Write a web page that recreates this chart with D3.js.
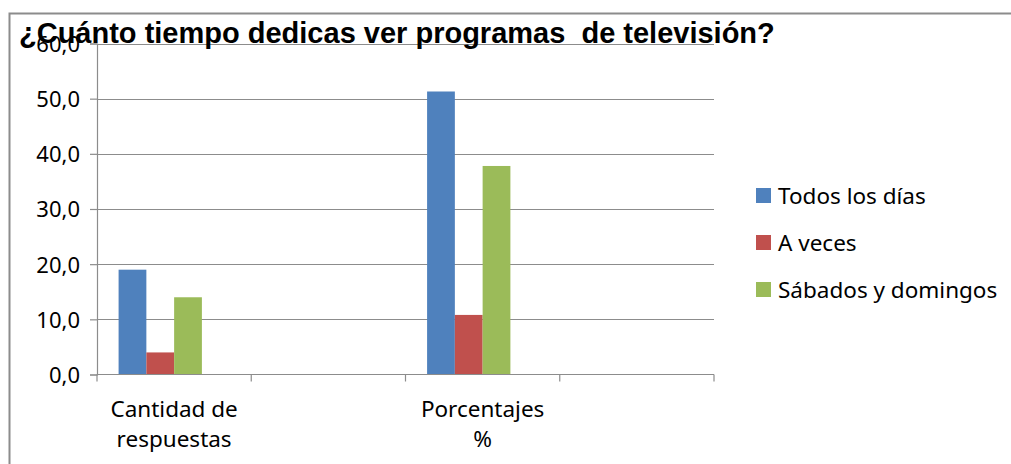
<!DOCTYPE html>
<html lang="es">
<head>
    <meta charset="utf-8">
    <title>¿Cuánto tiempo dedicas ver programas de televisión?</title>
    <style>
        body { margin: 0; background: #fff; }
        svg text { font-family: "Noto Sans", "Open Sans", sans-serif; fill: #000; }
        .title { font-family: "Liberation Sans", Arial, sans-serif !important; font-weight: bold; white-space: pre; }
    </style>
</head>
<body>
<script src="https://cdn.jsdelivr.net/npm/d3@7/dist/d3.min.js"></script>
<script>
    // datos
    var categorias = ["Cantidad de\nrespuestas", "", "Porcentajes\n%", ""];
    var series = ["Todos los días", "A veces", "Sábados y domingos"];
    var colores = ["#4F81BD", "#C0504D", "#9BBB59"];
    var todosLosDias = [19, null, 51.3, null];
    var aVeces = [4, null, 10.8, null];
    var sabadosDomingos = [14, null, 37.8, null];
    var ticksY = [0, 10, 20, 30, 40, 50, 60];

    function main() {
        var width = 1011,
            height = 464;
        var left = 97, right = 714, top = 43.5, bottom = 374.5;

        var svg = d3.select("body").append("svg")
            .attr("width", width)
            .attr("height", height);

        // marco del grafico
        svg.append("path")
            .attr("d", "M9.5," + height + "V13.5H" + width)
            .attr("fill", "none")
            .attr("stroke", "#8c8c8c")
            .attr("stroke-width", 2);

        var x = d3.scaleBand()
            .domain(d3.range(categorias.length))
            .range([left, right]);

        var y = d3.scaleLinear()
            .domain([0, 60])
            .range([bottom, top]);

        var valores = [todosLosDias, aVeces, sabadosDomingos];
        var bw = x.bandwidth();
        // 4 huecos por categoria, el ultimo vacio
        var sub = d3.scaleBand()
            .domain(d3.range(4))
            .range([bw * 0.14, bw * 0.86]);

        // lineas de cuadricula
        svg.append("g")
            .selectAll("line")
            .data(ticksY.slice(1))
            .enter().append("line")
            .attr("x1", left)
            .attr("x2", right)
            .attr("y1", function (d) { return Math.round(y(d)) + 0.5; })
            .attr("y2", function (d) { return Math.round(y(d)) + 0.5; })
            .attr("stroke", "#8c8c8c")
            .attr("stroke-width", 1.2);

        // eje y
        var ejeY = svg.append("g")
            .attr("transform", "translate(" + left + ",0)")
            .call(d3.axisLeft(y).tickValues(ticksY).tickSize(7).tickPadding(10)
                .tickFormat(function (d) { return d3.format(".1f")(d).replace(".", ","); }));
        ejeY.select(".domain").attr("stroke", "#8c8c8c").attr("stroke-width", 1.2);
        ejeY.selectAll(".tick line").attr("stroke", "#8c8c8c").attr("stroke-width", 1.2);
        ejeY.selectAll(".tick text")
            .attr("font-family", null)
            .attr("font-size", 22)
            .attr("dy", "0.36em");

        // barras
        series.forEach(function (s, i) {
            svg.append("g")
                .selectAll("rect")
                .data(valores[i].map(function (v, j) { return {c: j, v: v}; })
                    .filter(function (d) { return d.v !== null; }))
                .enter().append("rect")
                .attr("x", function (d) { return x(d.c) + sub(i); })
                .attr("width", sub.bandwidth())
                .attr("y", function (d) { return y(d.v); })
                .attr("height", function (d) { return bottom - y(d.v); })
                .attr("fill", colores[i]);
        });

        // eje x
        var ejeX = svg.append("g")
            .attr("transform", "translate(0," + bottom + ")");
        ejeX.append("line")
            .attr("x1", left).attr("x2", right)
            .attr("stroke", "#8c8c8c").attr("stroke-width", 1.2);
        ejeX.selectAll(".marca")
            .data(d3.range(categorias.length + 1))
            .enter().append("line")
            .attr("class", "marca")
            .attr("x1", function (d) { return left + d * bw; })
            .attr("x2", function (d) { return left + d * bw; })
            .attr("y1", 0).attr("y2", 7)
            .attr("stroke", "#8c8c8c").attr("stroke-width", 1.2);
        ejeX.selectAll(".etiqueta")
            .data(categorias)
            .enter().append("text")
            .attr("class", "etiqueta")
            .attr("text-anchor", "middle")
            .attr("font-size", 22.5)
            .attr("transform", function (d, i) { return "translate(" + (x(i) + bw / 2) + ",42)"; })
            .selectAll("tspan")
            .data(function (d) { return d ? d.split("\n") : []; })
            .enter().append("tspan")
            .attr("x", 0)
            .attr("y", function (d, i) { return i * 30; })
            .text(function (d) { return d; });

        // leyenda
        var leyenda = svg.append("g")
            .attr("transform", "translate(756,196)");
        var item = leyenda.selectAll("g")
            .data(series)
            .enter().append("g")
            .attr("transform", function (d, i) { return "translate(0," + i * 47 + ")"; });
        item.append("rect")
            .attr("x", 0).attr("y", -8)
            .attr("width", 15).attr("height", 15)
            .attr("fill", function (d, i) { return colores[i]; });
        item.append("text")
            .attr("x", 22)
            .attr("dy", "0.36em")
            .attr("font-size", 22.5)
            .text(function (d) { return d; });

        // titulo
        svg.append("text")
            .attr("class", "title")
            .attr("x", 19)
            .attr("y", 43)
            .attr("font-size", 29)
            .text("¿Cuánto tiempo dedicas ver programas  de televisión?");
    }

    window.onload = function () {
        main();
    };
</script>
</body>
</html>
